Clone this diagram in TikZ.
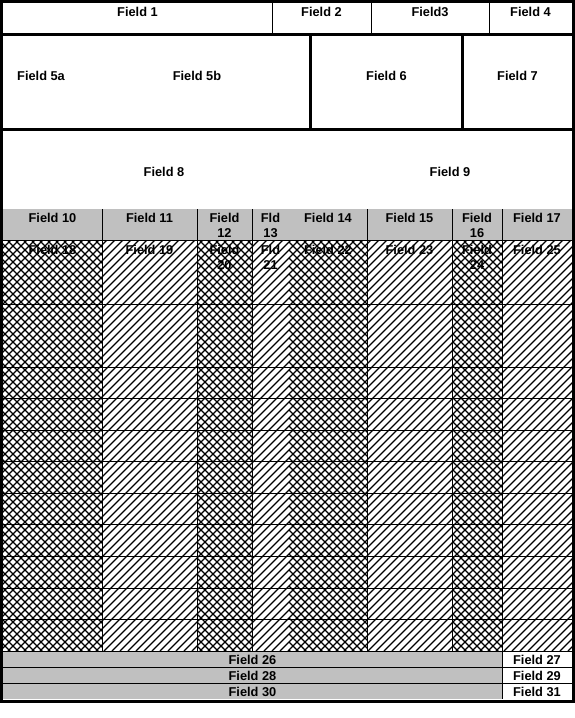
\documentclass[tikz,border=0pt]{standalone}
\usepackage{fontspec}
\setmainfont{Liberation Sans}
\definecolor{hdrgrey}{HTML}{C0C0C0}
\begin{document}
\begin{tikzpicture}[x=1pt,y=-1pt,
  lbl/.style={font=\fontsize{12.8}{15}\selectfont\bfseries, inner sep=0pt, anchor=north, align=center},
  heavy/.style={line width=3pt},
  rule/.style={line width=1pt},
  hatchline/.style={line width=1.25pt}]
\useasboundingbox (0,0) rectangle (575,718);
\fill[white] (0,0) rectangle (575,718);
% grey bands
\fill[hdrgrey] (3,209) rectangle (572,240);
\fill[hdrgrey] (3,651) rectangle (502,699);
% hatch "/" over whole table body
\begin{scope}
  \clip (3,241) rectangle (572,651);
  \foreach \k in {-53,...,72} \draw[hatchline] (\k*8,651) -- ++(420,-420);
\end{scope}
% second diagonal for cross-hatched columns
\begin{scope}
  \clip (3,241) rectangle (102,651) (197,241) rectangle (252,651)
        (289,241) rectangle (367,651) (452,241) rectangle (502,651);
  \foreach \k in {-53,...,72} \draw[hatchline] (\k*8,241) -- ++(420,420);
\end{scope}
% rules
\draw[heavy] (1.5,1.5) rectangle (573.5,701.5);
\draw[heavy] (0,34.5) -- (575,34.5);
\draw[heavy] (0,129.5) -- (575,129.5);
\draw[heavy] (310.5,34.5) -- (310.5,129.5);
\draw[heavy] (462.5,34.5) -- (462.5,129.5);
\foreach \x in {272.5,371.5,489.5} \draw[rule] (\x,3) -- (\x,33);
\draw[rule] (3,240.5) -- (572,240.5);
\foreach \x in {102.5,197.5,252.5,367.5,452.5} \draw[rule] (\x,209) -- (\x,651);
\draw[rule] (502.5,209) -- (502.5,699);
\foreach \y in {304.5,367.5,398.5,430.5,461.5,493.5,524.5,556.5,588,619.5,651.5,667.5,683.5}
  \draw[rule] (3,\y) -- (572,\y);
% labels
\node[lbl] (f1) at (137.5,7) {Field 1};
\node[lbl] (f2) at (321.5,7) {Field 2};
\node[lbl] (f3) at (430,7) {Field3};
\node[lbl] (f4) at (530.5,7) {Field 4};
\node[lbl,anchor=north west] (f5a) at (17,71) {Field 5a};
\node[lbl] (f5b) at (197,71) {Field 5b};
\node[lbl] (f6) at (386.5,71) {Field 6};
\node[lbl] (f7) at (517.5,71) {Field 7};
\node[lbl] (f8) at (164,167) {Field 8};
\node[lbl] (f9) at (450,167) {Field 9};
\node[lbl] (f10) at (52.5,213) {Field 10};
\node[lbl] (f11) at (149.5,213) {Field 11};
\node[lbl] (f12) at (224.5,213) {Field\\12};
\node[lbl] (f13) at (270.5,213) {Fld\\13};
\node[lbl] (f14) at (328,213) {Field 14};
\node[lbl] (f15) at (409.5,213) {Field 15};
\node[lbl] (f16) at (477,213) {Field\\16};
\node[lbl] (f17) at (537,213) {Field 17};
\node[lbl] (f18) at (52.5,245) {Field 18};
\node[lbl] (f19) at (149.5,245) {Field 19};
\node[lbl] (f20) at (224.5,245) {Field\\20};
\node[lbl] (f21) at (270.5,245) {Fld\\21};
\node[lbl] (f22) at (328,245) {Field 22};
\node[lbl] (f23) at (409.5,245) {Field 23};
\node[lbl] (f24) at (477,245) {Field\\24};
\node[lbl] (f25) at (537,245) {Field 25};
\node[lbl] (f26) at (252.5,655.5) {Field 26};
\node[lbl] (f27) at (537,655.5) {Field 27};
\node[lbl] (f28) at (252.5,671.5) {Field 28};
\node[lbl] (f29) at (537,671.5) {Field 29};
\node[lbl] (f30) at (252.5,687.5) {Field 30};
\node[lbl] (f31) at (537,687.5) {Field 31};
\end{tikzpicture}
\end{document}
